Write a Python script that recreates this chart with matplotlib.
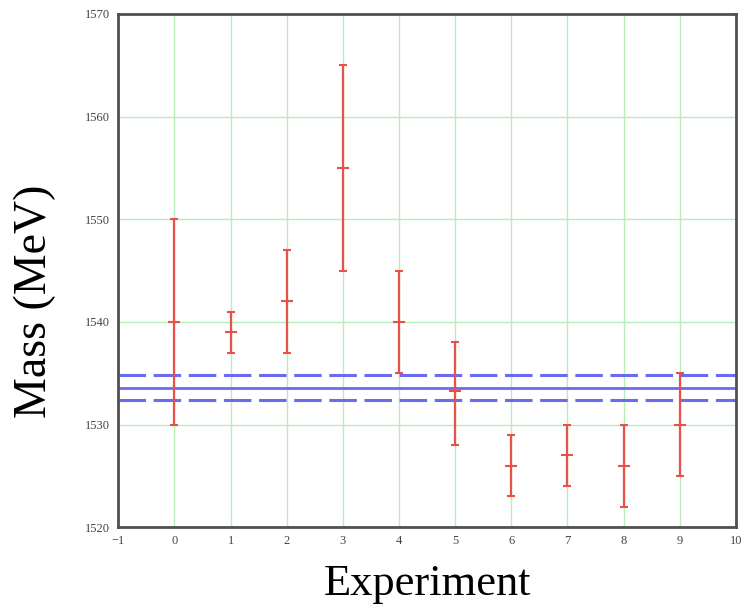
import matplotlib.pyplot as plt

experiments = [0, 1, 2, 3, 4, 5, 6, 7, 8, 9]
mass = [1540, 1539, 1542, 1555, 1540, 1533.3, 1526, 1527, 1526, 1530]
mass_low = [1530, 1537, 1537, 1545, 1535, 1528, 1523, 1524, 1522, 1525]
mass_high = [1550, 1541, 1547, 1565, 1545, 1538, 1529, 1530, 1530, 1535]

mean_mass = 1533.6
mean_err = 1.2

x_ticks = [-1, 0, 1, 2, 3, 4, 5, 6, 7, 8, 9, 10]
y_ticks = [1520, 1530, 1540, 1550, 1560, 1570]

plt.rcParams['font.family'] = ['Liberation Serif', 'DejaVu Serif']

fig = plt.figure(figsize=(7.44, 6.08), dpi=100)
ax = fig.add_axes([0.159, 0.133, 0.830, 0.844])

ax.set_xlim(-1, 10)
ax.set_ylim(1520, 1570)
ax.set_xticks(x_ticks)
ax.set_yticks(y_ticks)
ax.grid(True, color='#b8ecb8', linewidth=1.0)
ax.set_axisbelow(True)

lower = [m - lo for m, lo in zip(mass, mass_low)]
upper = [hi - m for m, hi in zip(mass, mass_high)]
ax.errorbar(experiments, mass, yerr=[lower, upper], fmt='_', color='#e8504a',
            ecolor='#e8504a', markersize=9, markeredgewidth=1.5,
            elinewidth=1.6, capsize=3, capthick=1.4, zorder=3)

ax.axhline(mean_mass, color='#6b6bf0', linewidth=2, zorder=2)
ax.axhline(mean_mass + mean_err, color='#6b6bf0', linewidth=2.2,
           dashes=(9, 2.5), zorder=2)
ax.axhline(mean_mass - mean_err, color='#6b6bf0', linewidth=2.2,
           dashes=(9, 2.5), zorder=2)

for s in ax.spines.values():
    s.set_color('#505050')
    s.set_linewidth(2)

ax.tick_params(length=0, labelsize=9, labelcolor='#444444', pad=6)

ax.set_xlabel('Experiment', fontsize=32, labelpad=12)
ax.set_ylabel('Mass (MeV)', fontsize=33)
ax.yaxis.set_label_coords(-0.1, 0.44)

fig.savefig('out.png', dpi=100)
